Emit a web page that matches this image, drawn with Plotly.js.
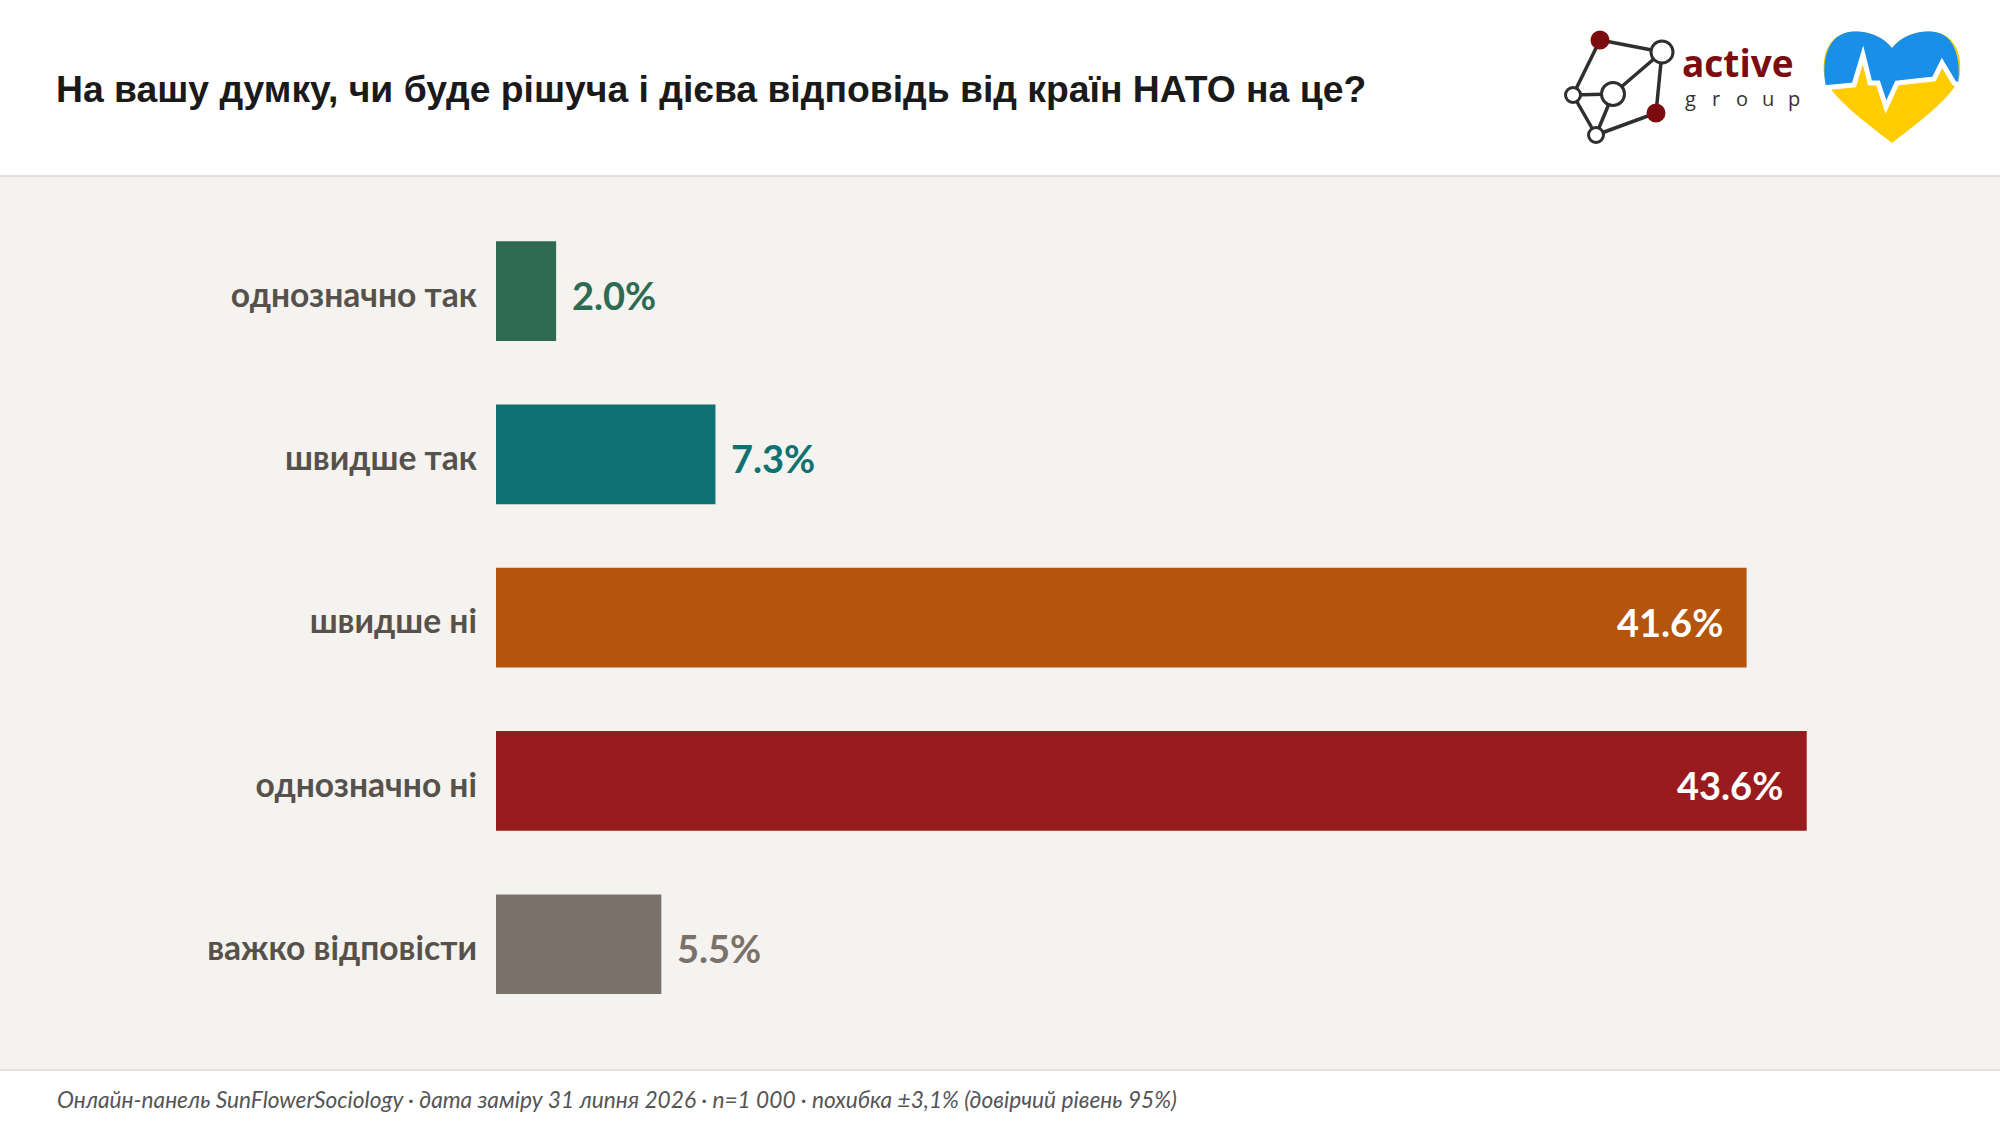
<!DOCTYPE html>
<html>
<head>
<meta charset="utf-8">
<script src="https://cdn.plot.ly/plotly-3.0.1.min.js"></script>
<style>
html,body{margin:0;padding:0;background:#fff;}
#chart{width:2000px;height:1126px;}
</style>
</head>
<body>
<div id="chart"></div>
<script>
const titleText = 'На вашу думку, чи буде рішуча і дієва відповідь від країн НАТО на це?';
const footerText = 'Онлайн-панель SunFlowerSociology · дата заміру 31 липня 2026 · n=1 000 · похибка ±3,1% (довірчий рівень 95%)';
const categories = ['однозначно так', 'швидше так', 'швидше ні', 'однозначно ні', 'важко відповісти'];
const values = [2.0, 7.3, 41.6, 43.6, 5.5];
const barColors = ['#2e6b52', '#0f7173', '#b5540c', '#9a1b1e', '#7a716b'];
const labelInside = [false, false, true, true, false];
const logoWord = 'active';
const logoSub = ['g', 'r', 'o', 'u', 'p'];

const W = 2000, H = 1126;
const px = x => x / W;
const py = y => 1 - y / H;

function pathFrom(segs) {
  return segs.map(s => {
    const c = s[0];
    const nums = s.slice(1);
    const out = [];
    for (let i = 0; i < nums.length; i += 2) out.push(px(nums[i]).toFixed(5) + ',' + py(nums[i + 1]).toFixed(5));
    return c + (out.length ? ' ' + out.join(' ') : '');
  }).join(' ');
}

const shapes = [];
shapes.push({type:'rect', xref:'paper', yref:'paper', x0:0, x1:1, y0:py(1070), y1:py(176), fillcolor:'#f4f3ef', line:{width:0}, layer:'below'});
shapes.push({type:'line', xref:'paper', yref:'paper', x0:0, x1:1, y0:py(176), y1:py(176), line:{color:'#e3e0db', width:2}, layer:'below'});
shapes.push({type:'line', xref:'paper', yref:'paper', x0:0, x1:1, y0:py(1070), y1:py(1070), line:{color:'#e3e0db', width:2}, layer:'below'});

// network logo
const nodes = [
  {x:1600, y:40, r:8, fill:'#7b0c10'},
  {x:1662, y:52, r:11, fill:'#ffffff'},
  {x:1573, y:95, r:7.5, fill:'#ffffff'},
  {x:1613, y:94, r:11.5, fill:'#ffffff'},
  {x:1656, y:113, r:8, fill:'#7b0c10'},
  {x:1596, y:135, r:7.5, fill:'#ffffff'}
];
const edges = [[0,1],[0,2],[2,3],[3,1],[1,4],[4,5],[5,2],[3,5]];
edges.forEach(e => {
  const a = nodes[e[0]], b = nodes[e[1]];
  shapes.push({type:'line', xref:'paper', yref:'paper', x0:px(a.x), y0:py(a.y), x1:px(b.x), y1:py(b.y), line:{color:'#2f2f2f', width:3.5}});
});
nodes.forEach(n => {
  shapes.push({type:'circle', xref:'paper', yref:'paper', x0:px(n.x - n.r), x1:px(n.x + n.r), y0:py(n.y + n.r), y1:py(n.y - n.r),
    fillcolor:n.fill, line:{color: n.fill === '#ffffff' ? '#2f2f2f' : '#7b0c10', width:3}});
});

// heart logo
const heart = [
  ['M',1892,48],
  ['C',1880,33,1860,29,1845,33],
  ['C',1828,38,1822,56,1824,74],
  ['C',1827,94,1860,118,1892,143],
  ['C',1924,118,1957,94,1960,74],
  ['C',1962,56,1956,38,1939,33],
  ['C',1924,29,1904,33,1892,48],
  ['Z']
];
shapes.push({type:'path', xref:'paper', yref:'paper', path:pathFrom(heart), fillcolor:'#ffcc00', line:{width:0}});
const blueTop = [
  ['M',1826,87],
  ['L',1854,85],['L',1863,55],['L',1870,83],['L',1878,83],['L',1886,107],['L',1897,83],['L',1934,79],['L',1942,63],['L',1954,83],['L',1958,84],
  ['C',1961,66,1957,38,1939,33],
  ['C',1924,29,1904,33,1892,48],
  ['C',1880,33,1860,29,1845,33],
  ['C',1828,38,1821,60,1826,87],
  ['Z']
];
shapes.push({type:'path', xref:'paper', yref:'paper', path:pathFrom(blueTop), fillcolor:'#1a8fe8', line:{width:0}});
const beat = [['M',1822,88],['L',1854,85],['L',1863,55],['L',1870,83],['L',1878,83],['L',1886,107],['L',1897,83],['L',1934,79],['L',1942,63],['L',1954,83],['L',1963,86]];
shapes.push({type:'path', xref:'paper', yref:'paper', path:pathFrom(beat), line:{color:'#ffffff', width:5}});

const annotations = [];
values.forEach((v, i) => {
  annotations.push({
    x: v, y: categories[i], xref:'x', yref:'y',
    text: v.toFixed(1) + '%',
    showarrow:false,
    xanchor: labelInside[i] ? 'right' : 'left',
    xshift: labelInside[i] ? -22 : 14,
    yshift: -4,
    yanchor:'middle',
    font:{family:'Lato', size:38, weight:700, color: labelInside[i] ? '#ffffff' : barColors[i]}
  });
});
annotations.push({
  x:px(55), y:py(1099), xref:'paper', yref:'paper', xanchor:'left', yanchor:'middle', showarrow:false,
  text:'<i>' + footerText + '</i>',
  font:{family:'Lato', size:22.7, color:'#555555'}
});
annotations.push({
  x:px(1680), y:py(62), xref:'paper', yref:'paper', xanchor:'left', yanchor:'middle', showarrow:false,
  text:logoWord, font:{family:'Open Sans', size:37, weight:700, color:'#7b0c10'}
});
logoSub.forEach((ch, i) => {
  annotations.push({
    x:px(1690 + i * 26), y:py(98), xref:'paper', yref:'paper', xanchor:'center', yanchor:'middle', showarrow:false,
    text:ch, font:{family:'Open Sans', size:20, color:'#333333'}
  });
});

const trace = {
  type:'bar', orientation:'h',
  y: categories, x: values,
  marker:{color: barColors, line:{width:0}},
  hoverinfo:'skip', showlegend:false
};

const layout = {
  width: W, height: H,
  margin:{l:0, r:0, t:0, b:0, pad:0},
  paper_bgcolor:'#ffffff',
  plot_bgcolor:'rgba(0,0,0,0)',
  title:{text:titleText, x:px(56), xanchor:'left', xref:'paper', y:py(89), yanchor:'middle', yref:'paper',
    font:{family:'Liberation Sans, Arial, sans-serif', size:37.3, weight:700, color:'#1a1a1a'}},
  bargap:0.39,
  xaxis:{domain:[px(496), px(1939)], range:[0, 48], showgrid:false, zeroline:false, showticklabels:false, ticks:'', showline:false, fixedrange:true},
  yaxis:{domain:[py(1025.8), py(209.5)], type:'category', autorange:'reversed', showgrid:false, zeroline:false, showline:false, ticks:'',
    ticklabelstandoff:18, ticklabelshift:-4, automargin:false,
    tickfont:{family:'Lato', size:33.6, weight:700, color:'#57514c'}, fixedrange:true},
  shapes: shapes,
  annotations: annotations
};

Plotly.newPlot('chart', [trace], layout, {displayModeBar:false, staticPlot:true});
</script>
</body>
</html>
